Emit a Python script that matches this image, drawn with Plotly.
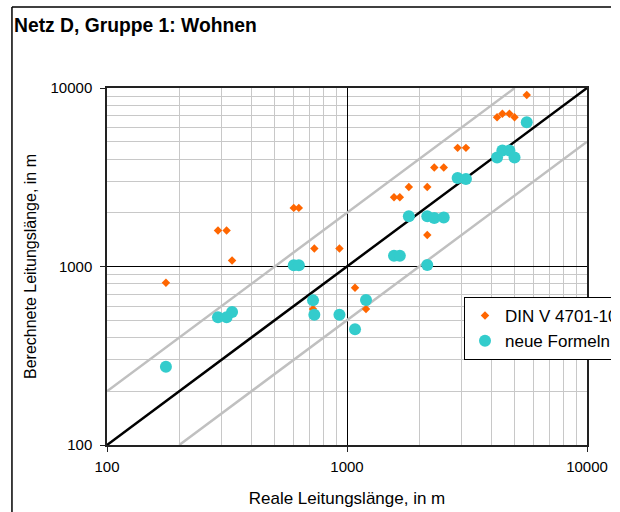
import plotly.graph_objects as go

# Data
x_real = [176, 290, 315, 332, 600, 630, 722, 731, 930, 1080, 1200, 1570, 1660,
          1810, 2160, 2160, 2310, 2530, 2890, 3130, 4220, 4440, 4750, 4990, 5610]
y_din = [811, 1590, 1590, 1080, 2130, 2130, 578, 1260, 1260, 760, 578, 2440, 2440,
         2790, 2790, 1500, 3590, 3590, 4620, 4620, 6860, 7180, 7180, 6860, 9140]
y_neu = [274, 519, 519, 556, 1017, 1017, 646, 537, 537, 445, 649, 1150, 1150,
         1910, 1910, 1020, 1870, 1880, 3130, 3090, 4080, 4470, 4470, 4080, 6430]

diag_x = [100, 10000]
diag_y = [100, 10000]
upper_x = [100, 5000]
upper_y = [200, 10000]
lower_x = [200, 10000]
lower_y = [100, 5000]

tick_vals = [100, 1000, 10000]
tick_text = ["100", "1000", "10000"]

FONT = "Liberation Sans, Arial, sans-serif"

fig = go.Figure()
fig.add_trace(go.Scatter(x=upper_x, y=upper_y, mode="lines",
                         line=dict(color="#c0c0c0", width=2.5), showlegend=False, hoverinfo="skip"))
fig.add_trace(go.Scatter(x=lower_x, y=lower_y, mode="lines",
                         line=dict(color="#c0c0c0", width=2.5), showlegend=False, hoverinfo="skip"))
fig.add_trace(go.Scatter(x=diag_x, y=diag_y, mode="lines",
                         line=dict(color="black", width=2.5), showlegend=False, hoverinfo="skip"))
fig.add_trace(go.Scatter(x=x_real, y=y_din, mode="markers", name="DIN V 4701-10",
                         marker=dict(symbol="diamond", size=6.5, color="#ff6600")))
fig.add_trace(go.Scatter(x=x_real, y=y_neu, mode="markers", name="neue Formeln",
                         marker=dict(symbol="circle", size=12, color="#33cccc")))

axis_common = dict(
    type="log", dtick=1, tickvals=tick_vals, ticktext=tick_text,
    showgrid=True, gridcolor="black", gridwidth=1,
    minor=dict(dtick="D1", showgrid=True, gridcolor="#c8c8c8", gridwidth=1, ticks=""),
    showline=True, linecolor="#222", linewidth=1.5, mirror=True,
    ticks="outside", ticklen=5, tickcolor="#222", tickwidth=1,
    tickfont=dict(family=FONT, size=15, color="black"),
    zeroline=False,
)

fig.update_xaxes(range=[2, 4], title=dict(text="Reale Leitungslänge, in m",
                 font=dict(family=FONT, size=17, color="black"), standoff=18),
                 ticklabelstandoff=2, **axis_common)
fig.update_yaxes(range=[2, 4], title=dict(text="Berechnete Leitungslänge, in m",
                 font=dict(family=FONT, size=16, color="black"), standoff=10),
                 ticklabelstandoff=5, **axis_common)

# outer chart frame (top and left edges visible)
fig.add_shape(type="line", xref="paper", yref="paper", x0=-0.198, x1=1.06, y0=1.2269, y1=1.2269,
              line=dict(color="black", width=1.5))
fig.add_shape(type="line", xref="paper", yref="paper", x0=-0.198, x1=-0.198, y0=1.2269, y1=-0.2,
              line=dict(color="black", width=1.5))

fig.add_annotation(text="<b>Netz D, Gruppe 1: Wohnen</b>", xref="paper", yref="paper",
                   x=(12 - 107) / 480, y=(445 - 26) / 357, xanchor="left", yanchor="middle",
                   showarrow=False, font=dict(family=FONT, size=19.3, color="black"))

fig.update_layout(
    width=611, height=512,
    margin=dict(l=107, r=24, t=88, b=67, autoexpand=False),
    paper_bgcolor="white", plot_bgcolor="white",
    font=dict(family=FONT, color="black"),
    showlegend=True,
    legend=dict(x=(464 - 107) / 480, y=(445 - 297) / 357, xanchor="left", yanchor="top",
                bgcolor="white", bordercolor="black", borderwidth=1,
                font=dict(family=FONT, size=17, color="black")),
)

fig.write_html("out.html", config={"displayModeBar": False},
               post_script="document.body.style.margin='0';")
